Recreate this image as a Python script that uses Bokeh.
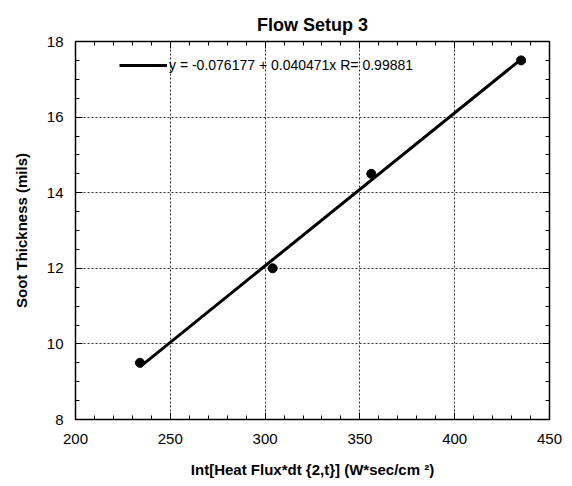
from bokeh.plotting import figure
from bokeh.models import LinearAxis, Legend, LegendItem, Range1d, FixedTicker
from bokeh.embed import file_html
from bokeh.resources import INLINE

# data
heat_flux = [234, 304, 356, 435]
soot = [9.5, 12.0, 14.5, 17.5]
intercept = -0.076177
slope = 0.040471
r_value = 0.99881
x_ticks = [200, 250, 300, 350, 400, 450]
y_ticks = [8, 10, 12, 14, 16, 18]

fit_x = [min(heat_flux), max(heat_flux)]
fit_y = [intercept + slope * v for v in fit_x]

FONT = "Liberation Sans"

p = figure(frame_width=474, frame_height=378, output_backend="svg", toolbar_location=None,
           x_range=Range1d(200, 450), y_range=Range1d(8, 18),
           min_border_left=75, min_border_right=23, min_border_top=41, min_border_bottom=67,
           title="Flow Setup 3")
p.title.align = "center"
p.title.text_font = FONT
p.title.text_font_size = "18px"
p.title.text_font_style = "bold"
p.title.text_color = "black"
p.title.standoff = 14
p.outline_line_color = "black"
p.outline_line_width = 1.5
p.background_fill_color = "white"
p.border_fill_color = "white"

def style_axis(ax, show_labels=True):
    ax.axis_line_color = "black"
    ax.major_tick_in = 7
    ax.major_tick_out = 0
    ax.minor_tick_in = 4
    ax.minor_tick_out = 0
    ax.major_tick_line_color = "black"
    ax.minor_tick_line_color = "black"
    ax.major_label_text_font = FONT
    ax.major_label_text_font_size = "15px"
    ax.major_label_text_color = "black" if show_labels else None
    ax.axis_label_text_font = FONT
    ax.axis_label_text_font_size = "15px"
    ax.axis_label_text_font_style = "bold"
    ax.axis_label_text_color = "black"

xt = FixedTicker(ticks=x_ticks, minor_ticks=list(range(200, 451, 10)))
yt = FixedTicker(ticks=y_ticks, minor_ticks=[8 + 0.5 * i for i in range(21)])
p.xaxis.ticker = xt
p.yaxis.ticker = yt

p.xaxis.axis_label = "Int[Heat Flux*dt {2,t}] (W*sec/cm \u00b2)"
p.yaxis.axis_label = "Soot Thickness (mils)"
for ax in p.xaxis + p.yaxis:
    style_axis(ax)
p.xaxis.major_label_standoff = 14
p.yaxis.major_label_standoff = 12
p.xaxis.axis_label_standoff = 14
p.yaxis.axis_label_standoff = 14

top = LinearAxis(ticker=xt)
style_axis(top, False)
top.major_label_text_font_size = "0px"
top.major_label_standoff = 0
p.add_layout(top, "above")
right = LinearAxis(ticker=yt)
style_axis(right, False)
right.major_label_text_font_size = "0px"
right.major_label_standoff = 0
p.add_layout(right, "right")

p.xgrid.ticker = xt
p.ygrid.ticker = yt
for g in (p.xgrid, p.ygrid):
    g.grid_line_color = "#333333"
    g.grid_line_dash = "2 2"
    g.grid_line_width = 1

fit = p.line(fit_x, fit_y, line_color="black", line_width=3)
p.scatter(heat_flux, soot, size=9, marker="circle", fill_color="black", line_color="black")

legend = Legend(items=[LegendItem(label=f"y = {intercept} + {slope}x R= {r_value}", renderers=[fit])],
                location=(44, 344), background_fill_alpha=0, border_line_color=None,
                padding=0, margin=0, spacing=0, glyph_width=48, glyph_height=20,
                label_height=20, label_standoff=2,
                label_text_font=FONT, label_text_font_size="14px", label_text_color="black")
p.add_layout(legend, "center")

open("out.html", "w").write(file_html(p, INLINE))
